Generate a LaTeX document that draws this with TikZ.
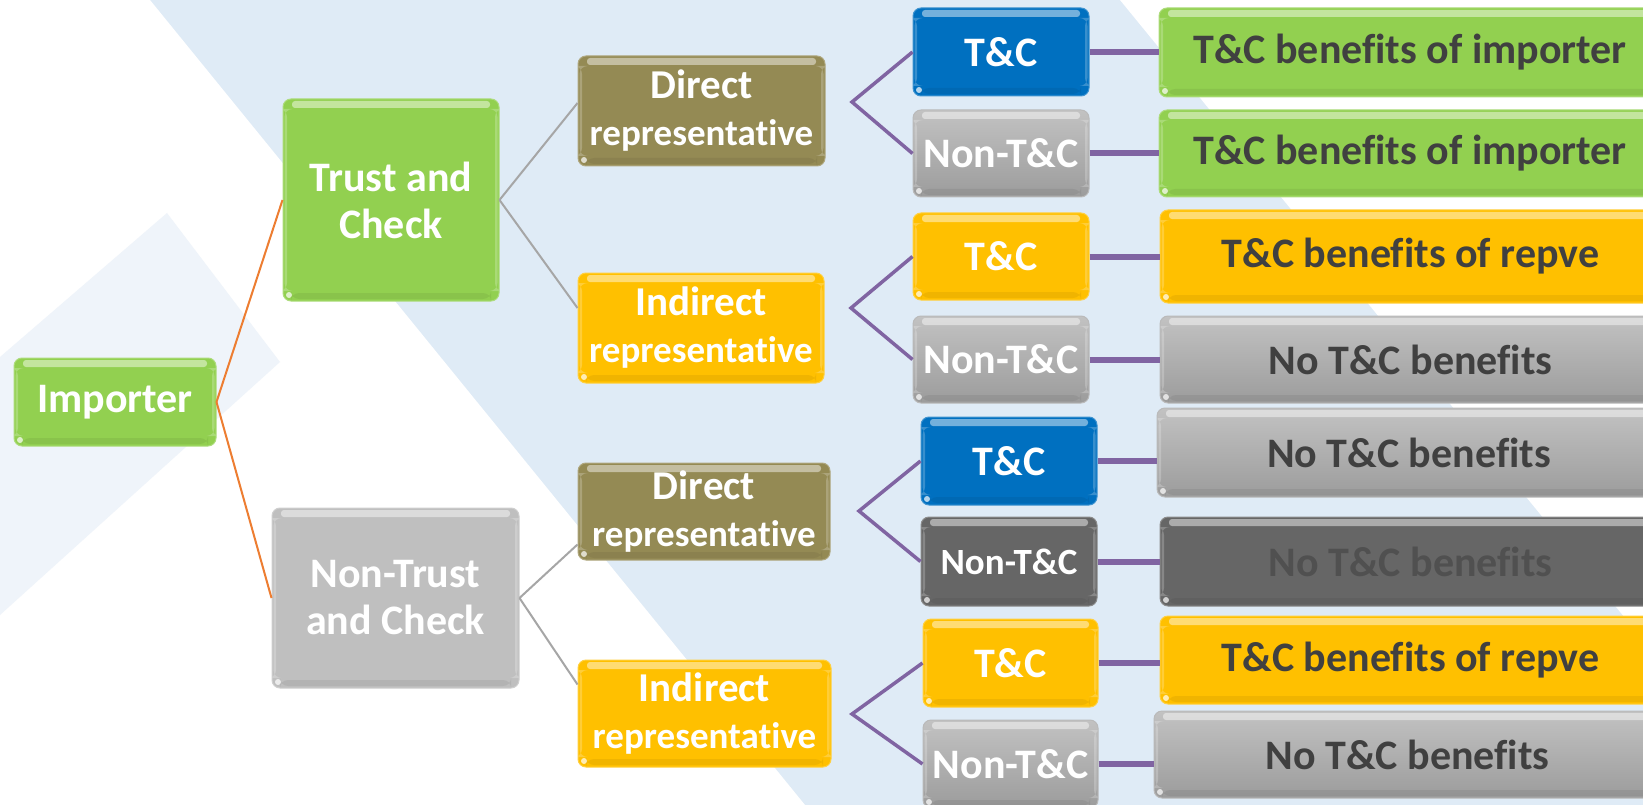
\documentclass[tikz,border=0pt]{standalone}
\usepackage{fontspec}
\setmainfont{Carlito}[Ligatures=NoCommon]
\usetikzlibrary{calc}
\definecolor{bgblue}{RGB}{223,235,246}
\definecolor{bglight}{RGB}{239,244,250}
\definecolor{cgreen}{HTML}{92D050}
\definecolor{cblue}{HTML}{0070C0}
\definecolor{cyellow}{HTML}{FFC000}
\definecolor{colive}{HTML}{948A54}
\definecolor{cgreyL}{HTML}{BFBFBF}
\definecolor{cgreyT}{HTML}{C2C2C2}
\definecolor{cgreyB}{HTML}{9C9C9C}
\definecolor{cgrey}{HTML}{A6A6A6}
\definecolor{cdark}{HTML}{666666}
\definecolor{corange}{HTML}{ED7D31}
\definecolor{cpurple}{HTML}{8064A2}
\definecolor{ctext}{HTML}{404040}
\definecolor{cdtext}{HTML}{505050}
\newcommand\bx[7]{%
 \pgfmathsetmacro\bxcx{(#2+#4)/2}%
 \pgfmathsetmacro\bxcy{(#3+#5)/2}%
 \pgfmathsetmacro\bxw{#4-#2}%
 \pgfmathsetmacro\bxh{#5-#3}%
 \node[#6, minimum width=\bxw pt, minimum height=\bxh pt] (#1) at (\bxcx,\bxcy) {#7};}
\newcommand\reptext[1]{{\fontsize{41}{47}\selectfont #1}\\{\fontsize{37}{44}\selectfont representative}}
\tikzset{
 gloss/.style={path picture={
   \fill[white,opacity=0.45,rounded corners=3pt]
     ([xshift=9pt,yshift=-2pt]path picture bounding box.north west) rectangle
     ([xshift=-9pt,yshift=-9pt]path picture bounding box.north east);
   \fill[white,opacity=0.22]
     ([xshift=1.5pt,yshift=-10pt]path picture bounding box.north west) rectangle
     ([xshift=4pt,yshift=10pt]path picture bounding box.south west);
   \fill[white,opacity=0.22]
     ([xshift=-4pt,yshift=-10pt]path picture bounding box.north east) rectangle
     ([xshift=-1.5pt,yshift=10pt]path picture bounding box.south east);
   \fill[black,opacity=0.06]
     ([xshift=8pt,yshift=2pt]path picture bounding box.south west) rectangle
     ([xshift=-8pt,yshift=8pt]path picture bounding box.south east);
   \fill[white,opacity=0.7] ([xshift=6pt,yshift=6pt]path picture bounding box.south west) circle (3pt);
 }},
 gbox/.style={rounded corners=8pt, inner sep=0pt, align=center, gloss,
   font=\bfseries\fontsize{42}{47}\selectfont, text=white},
 fillc/.style={fill=#1, draw=#1!75!white, line width=1pt},
 gradc/.style={top color=cgreyT, bottom color=cgreyB, draw=cgreyB!70!white, line width=1pt},
 res/.style={gbox, text=ctext},
 lorange/.style={draw=corange, line width=2pt},
 lgrey/.style={draw=cgrey, line width=2pt},
 lpurple/.style={draw=cpurple, line width=3.5pt},
 lpurpleh/.style={draw=cpurple, line width=6pt},
}
\begin{document}
\begin{tikzpicture}[x=1pt,y=-1pt]
\useasboundingbox (0,0) rectangle (1643,805);
\clip (0,0) rectangle (1643,805);
% background
\fill[bgblue] (0,0) rectangle (1643,805);
\fill[white] (0,0) -- (150,0) -- (805,805) -- (0,805) -- cycle;
\fill[bglight] (0,357) -- (167,213) -- (280,362) -- (0,615) -- cycle;
\fill[white] (1120,0) -- (1643,0) -- (1643,640) -- cycle;
% level 1 and 2
\bx{imp}{14}{358}{216}{446}{gbox,fillc=cgreen}{Importer}
\bx{tc}{283}{99}{499}{301}{gbox,fillc=cgreen}{Trust and\\Check}
\bx{ntc}{272}{508}{519}{688}{gbox,fillc=cgreyL}{Non-Trust\\and Check}
% level 3
\bx{dr1}{578}{56}{825}{166}{gbox,fillc=colive}{\reptext{Direct}}
\bx{ir1}{578}{273}{824}{383}{gbox,fillc=cyellow}{\reptext{Indirect}}
\bx{dr2}{578}{463}{830}{560}{gbox,fillc=colive}{\reptext{Direct}}
\bx{ir2}{578}{660}{831}{767}{gbox,fillc=cyellow}{\reptext{Indirect}}
% level 4
\bx{b1}{913}{8}{1089}{96}{gbox,fillc=cblue}{T\&C}
\bx{b2}{913}{110}{1089}{197}{gbox,gradc}{Non-T\&C}
\bx{b3}{913}{213}{1089}{300}{gbox,fillc=cyellow}{T\&C}
\bx{b4}{913}{316}{1089}{403}{gbox,gradc}{Non-T\&C}
\bx{b5}{921}{417}{1097}{505}{gbox,fillc=cblue}{T\&C}
\bx{b6}{921}{517}{1097}{606}{gbox,fillc=cdark,font=\bfseries\fontsize{37}{44}\selectfont}{Non-T\&C}
\bx{b7}{923}{619}{1098}{707}{gbox,fillc=cyellow}{T\&C}
\bx{b8}{923}{720}{1098}{808}{gbox,gradc}{Non-T\&C}
% results
\bx{r1}{1159}{8}{1661}{97}{res,fillc=cgreen}{T\&C benefits of importer}
\bx{r2}{1159}{110}{1661}{197}{res,fillc=cgreen}{T\&C benefits of importer}
\bx{r3}{1160}{210}{1661}{303}{res,fillc=cyellow}{T\&C benefits of repve}
\bx{r4}{1160}{316}{1661}{403}{res,gradc}{No T\&C benefits}
\bx{r5}{1157}{408}{1661}{497}{res,gradc}{No T\&C benefits}
\bx{r6}{1160}{517}{1661}{606}{res,fillc=cdark,text=cdtext}{No T\&C benefits}
\bx{r7}{1160}{616}{1661}{704}{res,fillc=cyellow}{T\&C benefits of repve}
\bx{r8}{1154}{711}{1661}{798}{res,gradc}{No T\&C benefits}
% connectors
\draw[lorange] (imp.east) -- (tc.west);
\draw[lorange] (imp.east) -- (ntc.west);
\draw[lgrey] (tc.east) -- ($(dr1.west)+(0,-8)$);
\draw[lgrey] (tc.east) -- ($(ir1.west)+(0,-20)$);
\draw[lgrey] (ntc.east) -- ($(dr2.west)+(0,33)$);
\draw[lgrey] (ntc.east) -- ($(ir2.west)+(0,-29)$);
\coordinate (v1) at (852,102);
\coordinate (v2) at (851,308);
\coordinate (v3) at (859,511);
\coordinate (v4) at (852,714);
\draw[lpurple] (b1.west) -- (v1) -- (b2.west);
\draw[lpurple] (b3.west) -- (v2) -- (b4.west);
\draw[lpurple] (b5.west) -- (v3) -- (b6.west);
\draw[lpurple] (b7.west) -- (v4) -- (b8.west);
\foreach \a/\b in {b1/r1,b2/r2,b3/r3,b4/r4,b5/r5,b6/r6,b7/r7,b8/r8}
  \draw[lpurpleh] (\a.east) -- (\a.east -| \b.west);
\end{tikzpicture}
\end{document}
